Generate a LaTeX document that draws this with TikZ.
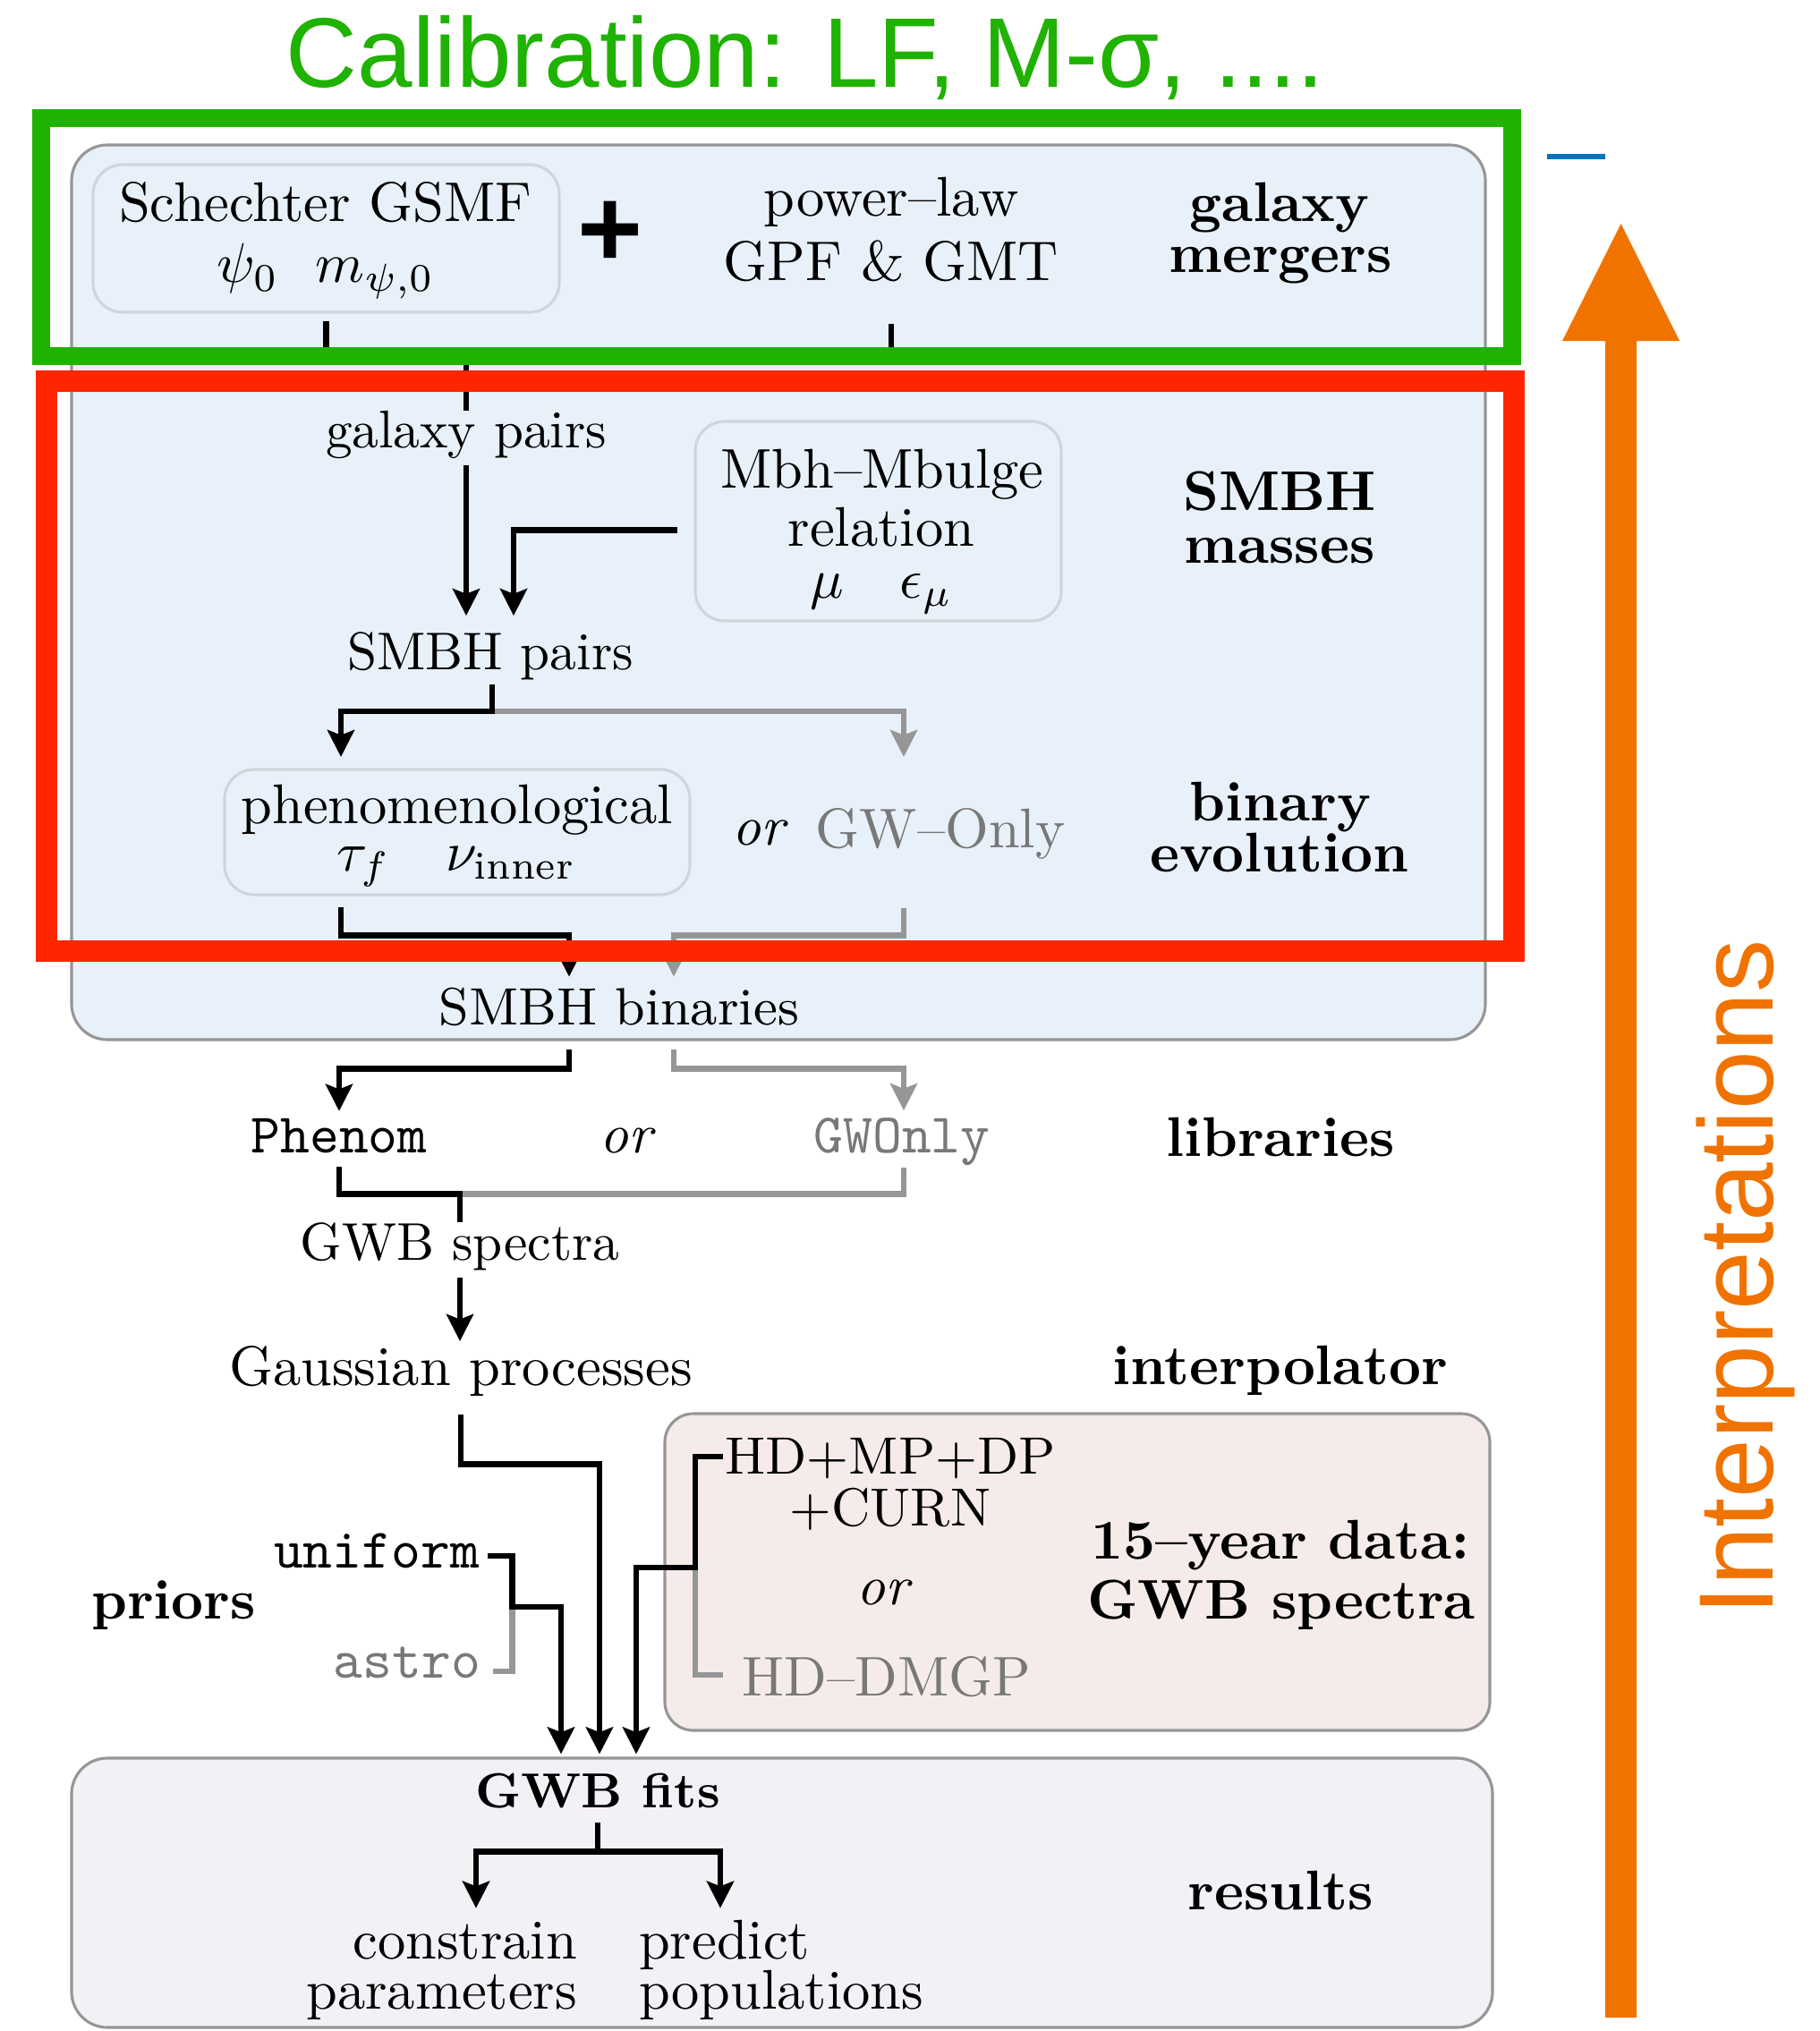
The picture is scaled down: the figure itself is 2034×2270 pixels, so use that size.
\documentclass[tikz,border=0pt]{standalone}
\usepackage{fontspec}
\newfontfamily\lsans{Liberation Sans}
\usetikzlibrary{arrows.meta,calc,fit}
\definecolor{calgreen}{RGB}{32,178,0}
\definecolor{calred}{RGB}{255,38,0}
\definecolor{interorange}{RGB}{240,115,0}
\definecolor{lineblue}{RGB}{0,114,189}
\definecolor{boxblue}{RGB}{232,240,249}
\definecolor{databg}{RGB}{245,236,233}
\definecolor{resbg}{RGB}{244,241,246}
\definecolor{outline}{RGB}{150,150,150}
\definecolor{inline}{RGB}{208,213,220}
\definecolor{lgray}{RGB}{150,150,150}
\definecolor{tgray}{RGB}{120,120,120}
\tikzset{
  txt/.style={inner sep=0pt, outer sep=0pt, anchor=base},
  bld/.style={txt, font=\bfseries},
  mono/.style={txt, font=\ttfamily},
  smaller/.style={font=\fontsize{9.5}{11}\selectfont},
  bigbox/.style={draw=outline, line width=0.5pt, rounded corners=6.4pt, inner sep=0pt, outer sep=0pt},
  innerbox/.style={draw=inline, line width=0.5pt, fill=boxblue, rounded corners=5.3pt, inner sep=0pt, outer sep=0pt},
  conn/.style={line width=1.1pt, black},
  gconn/.style={line width=1.1pt, lgray},
  arr/.style={conn, -{Stealth[length=4.8pt,width=4.8pt,inset=0.9pt]}},
  garr/.style={gconn, -{Stealth[length=4.8pt,width=4.8pt,inset=0.9pt]}},
}
\begin{document}
\begin{tikzpicture}[x=0.16pt,y=-0.16pt]
\fill[white] (0,0) rectangle (2034,2270);
\useasboundingbox (0,0) rectangle (2034,2270);

% ---------- boxes ----------
\node[bigbox, fill=boxblue, fit={(80,162)(1660,1162)}] (galbox) {};
\node[innerbox, fit={(104,184)(625,349)}] (sch) {};
\node[innerbox, fit={(777,471)(1186,694)}] (mbh) {};
\node[innerbox, fit={(251,860)(771,1000)}] (phen) {};
\node[bigbox, fill=databg, rounded corners=5.1pt, fit={(743,1580)(1665,1934)}] (data) {};
\node[bigbox, fill=resbg, fit={(80,1965)(1668,2266)}] (res) {};

% ---------- texts ----------
\node[txt] (sch1) at (364,248) {Schechter GSMF};
\node[txt] (sch2) at (364,316) {$\psi_0\ \ m_{\psi,0}$};
\node[txt, font=\lsans\bfseries\fontsize{20}{24}\selectfont] (plus) at (682,299) {+};
\node[txt] (pl1) at (996,242) {power--law};
\node[txt] (pl2) at (996,313) {GPF \& GMT};
\node[bld] (gm1) at (1430,248) {galaxy};
\node[bld] (gm2) at (1431,305) {mergers};

\node[txt, smaller] (gp) at (521,500) {galaxy pairs};
\node[txt] (mb1) at (986,545) {Mbh--Mbulge};
\node[txt] (mb2) at (985,610) {relation};
\node[txt] (mb3) at (985,668) {$\mu\quad\epsilon_\mu$};
\node[bld] (sm1) at (1430,570) {SMBH};
\node[bld] (sm2) at (1430,629) {masses};
\node[txt, smaller] (sp) at (548,748) {SMBH pairs};

\node[txt] (ph1) at (511,920) {phenomenological};
\node[txt] (ph2) at (510,973) {$\tau_f\quad\nu_{\mathrm{inner}}$};
\node[txt, font=\itshape] (or1) at (848,944) {or};
\node[txt, text=tgray] (gwo) at (1051,947) {GW--Only};
\node[bld] (be1) at (1431,917) {binary};
\node[bld] (be2) at (1430,974) {evolution};
\node[txt, font=\fontsize{9.4}{11}\selectfont] (sb) at (692,1145) {SMBH binaries};

\node[mono] (phenom) at (379,1288) {Phenom};
\node[txt, font=\itshape] (or2) at (700,1288) {or};
\node[mono, text=tgray] (gwonly) at (1008,1288) {GWOnly};
\node[bld] (lib) at (1431,1292) {libraries};
\node[txt, smaller] (gwbs) at (514,1408) {GWB spectra};
\node[txt] (gauss) at (515,1548) {Gaussian processes};
\node[bld] (interp) at (1431,1547) {interpolator};

\node[txt, font=\fontsize{9.4}{11}\selectfont] (hd1) at (995,1647) {HD+MP+DP};
\node[txt, font=\fontsize{9.6}{11}\selectfont] (hd2) at (995,1705) {+CURN};
\node[txt, font=\itshape] (or3) at (987,1793) {or};
\node[txt, text=tgray] (hd3) at (991,1895) {HD--DMGP};
\node[bld] (yr1) at (1431,1742) {15--year data:};
\node[bld] (yr2) at (1432,1809) {GWB spectra};
\node[mono] (unif) at (421,1752) {uniform};
\node[mono, text=tgray] (astro) at (455,1875) {astro};
\node[bld] (priors) at (194,1809) {priors};

\node[txt, font=\bfseries\fontsize{8.8}{10}\selectfont] (fits) at (668,2020) {GWB fits};
\node[txt, anchor=base east] (con1) at (645,2189) {constrain};
\node[txt, anchor=base east] (con2) at (645,2245) {parameters};
\node[txt, anchor=base west] (pre1) at (714,2189) {predict};
\node[txt, anchor=base west] (pre2) at (714,2245) {populations};
\node[bld] (resl) at (1431,2134) {results};

% ---------- connectors ----------
\coordinate (jm) at (gp.north |- 0,398);
\draw[conn] (sch.south |- 0,359) |- (jm);
\draw[conn] (pl2.south |- 0,362) |- (jm);
\draw[conn] (jm) -- (gp.north);
\draw[arr] ($(gp.south)+(0,8)$) -- ($(gp.south |- sp.north)+(0,-18)$);
\draw[arr] ($(mbh.west)+(-20,10)$) -| ($(sp.north)+(26,-18)$);

\coordinate (phin) at ($(phen.north west)+(130,-14)$);
\coordinate (gwin) at ($(phin)+(629,0)$);
\draw[garr] ($(sp.south)+(2,5)$) |- ($(gwin)+(0,-51)$) -- (gwin);
\draw[arr] ($(sp.south)+(2,5)$) |- ($(phin)+(0,-51)$) -- (phin);

\coordinate (sbinL) at ($(sb.north)+(-56,-12)$);
\coordinate (sbinR) at ($(sb.north)+(61,-12)$);
\draw[garr] ($(gwo.south -| gwin)+(0,55)$) |- ($(sbinR)+(0,-46)$) -- (sbinR);
\draw[arr] ($(phen.south west)+(130,14)$) |- ($(sbinL)+(0,-46)$) -- (sbinL);

\draw[garr] ($(sb.south)+(61,27)$) |- ($(gwonly.north)+(2,-55)$) -- ($(gwonly.north)+(2,-8)$);
\draw[arr] ($(sb.south)+(-56,27)$) |- ($(phenom.north)+(0,-55)$) -- ($(phenom.north)+(0,-8)$);

\coordinate (jl) at ($(gwbs.north)+(0,-32)$);
\draw[gconn] ($(gwonly.south)+(2,3)$) |- (jl);
\draw[conn] ($(phenom.south)+(0,16)$) |- (jl) -- (gwbs.north);
\draw[arr] ($(gwbs.south)+(0,8)$) -- ($(gwbs.south |- gauss.north)+(0,-5)$);

\draw[arr] ($(gauss.south)+(0,21)$) |- ($(fits.north)+(2,-345)$) -- ($(fits.north)+(2,-21)$);

\coordinate (ju) at ($(unif.base east)+(37,44)$);
\draw[gconn] ($(astro.base east)+(14,-7)$) -| (ju);
\draw[arr] ($(unif.base east)+(9,-13)$) -| (ju) -| ($(fits.north)+(-41,-21)$);

\coordinate (jd) at ($(data.west)+(34,-5)$);
\draw[gconn] (jd) |- ($(data.south west)+(65,-62)$);
\draw[arr] ($(data.north west)+(65,48)$) -| (jd) -| ($(fits.north)+(43,-21)$);

\coordinate (jf) at ($(fits.south)+(0,49)$);
\draw[conn] ($(fits.south)+(0,16)$) -- (jf);
\draw[arr] (jf) -| ($(fits.south)+(-136,112)$);
\draw[arr] (jf) -| ($(fits.south)+(137,112)$);

% ---------- overlay annotations ----------
\node[anchor=base, inner sep=0pt, font=\lsans\fontsize{17.7}{20}\selectfont, text=calgreen] (title) at (900,98) {Calibration: LF, M-σ, ....};
\draw[calgreen, line width=3.2pt] (46,132.5) rectangle (1690,398);
\draw[calred, line width=3.84pt] (51.5,425.5) rectangle (1692,1062.5);
\draw[lineblue, line width=1pt] (1729,175) -- (1794,175);
\fill[interorange] (1794,2255) -- (1794,381) -- (1746,381) -- (1811.5,250) -- (1877,381) -- (1829,381) -- (1829,2255) -- cycle;
\node[anchor=base, inner sep=0pt, font=\lsans\fontsize{18.9}{20}\selectfont, text=interorange, rotate=90] (interpr) at (1981,1428) {Interpretations};
\end{tikzpicture}
\end{document}
